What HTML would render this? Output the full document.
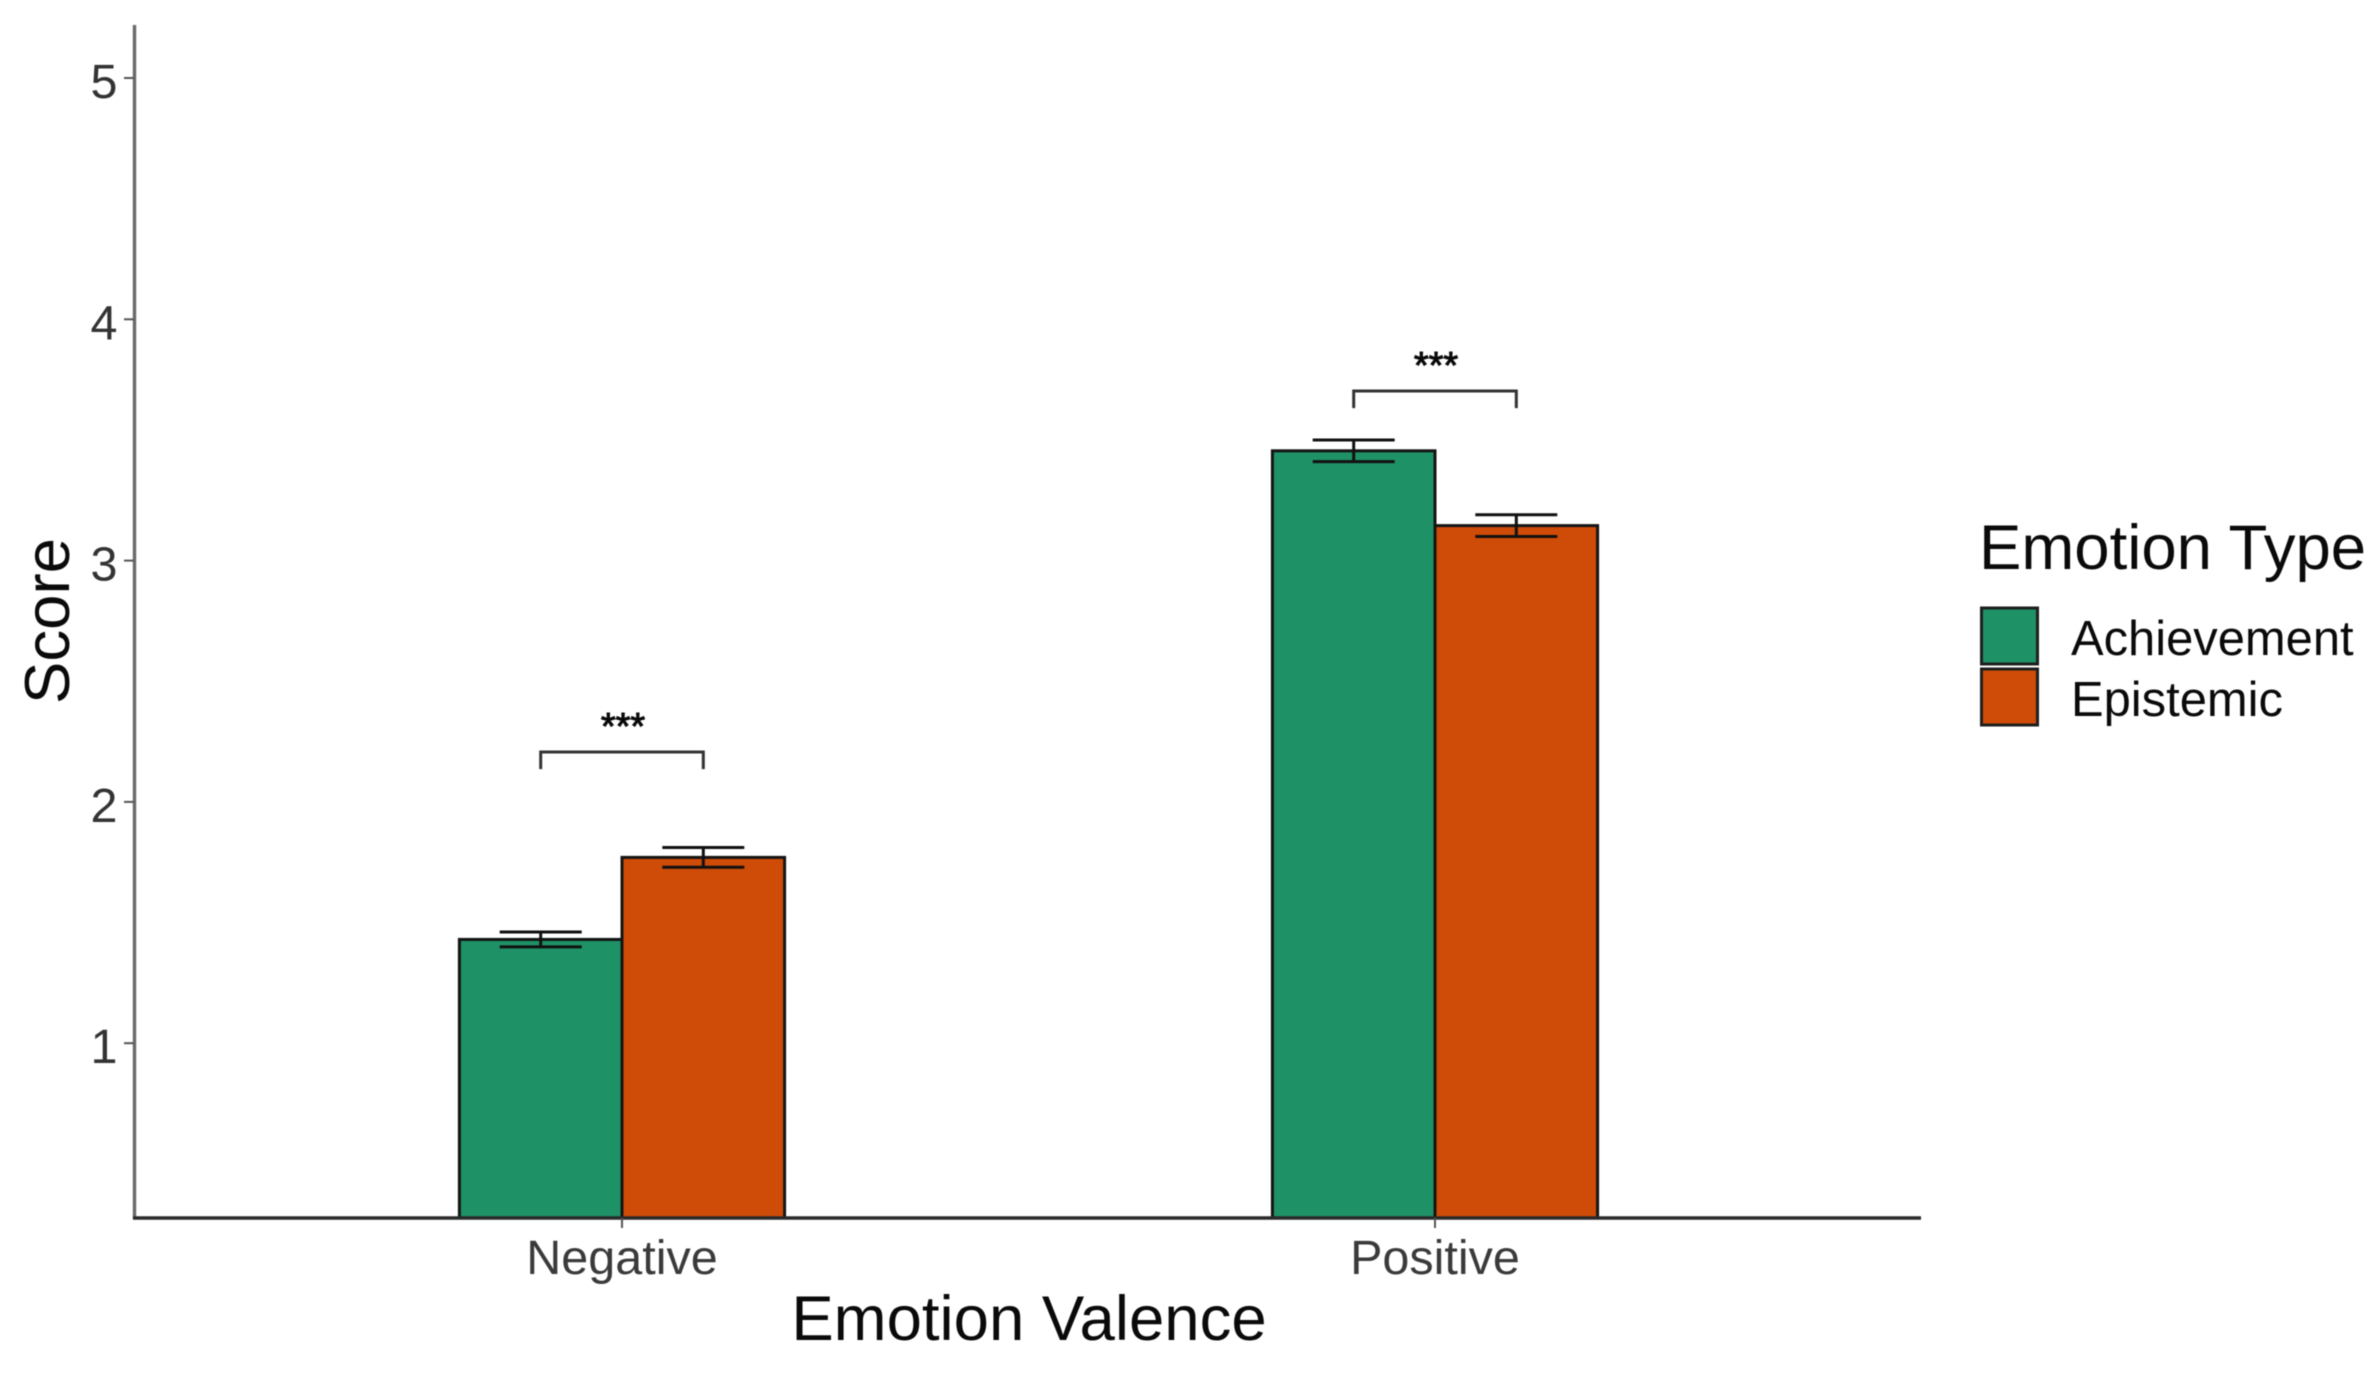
<!DOCTYPE html>
<html lang="en">
<head>
<meta charset="utf-8">
<title>Emotion score by valence and type</title>
<style>
html,body{margin:0;padding:0;background:#fff;width:2380px;height:1376px;overflow:hidden}
svg{display:block;filter:blur(0.6px)}
text{font-family:"Liberation Sans",Arial,sans-serif}
</style>
</head>
<body>
<svg id="chart" xmlns="http://www.w3.org/2000/svg" width="2380" height="1376" viewBox="0 0 2380 1376">
<rect x="0" y="0" width="2380" height="1376" fill="#fff"/>
<g id="marks"></g>
<g id="axes"></g>
<text x="1029" y="1340" font-size="63.5" text-anchor="middle" fill="#0a0a0a">Emotion Valence</text>
<text transform="translate(69 621) rotate(-90)" font-size="63.5" text-anchor="middle" fill="#0a0a0a">Score</text>
<g id="legend">
<text x="1979" y="569" font-size="63.5" fill="#0a0a0a">Emotion Type</text>
</g>
</svg>
<script>
const categories = ['Negative', 'Positive'];
const seriesNames = ['Achievement', 'Epistemic'];
const achievementMeans = [1.43, 3.455];
const epistemicMeans = [1.77, 3.145];
const achievementErrors = [0.031, 0.045];
const epistemicErrors = [0.041, 0.045];
const bracketTops = [2.207, 3.703];
const bracketTips = [2.136, 3.632];
const significanceLabels = ['***', '***'];
const yTicks = [1, 2, 3, 4, 5];
const seriesColors = ['#1f9166', '#ce4b08'];

const NS = 'http://www.w3.org/2000/svg';
const marks = document.getElementById('marks');
const axes = document.getElementById('axes');
const legend = document.getElementById('legend');

function yScale(v) { return 78 + (5 - v) * 241.3; }
function xCenter(i) { return 622 + i * 813; }
function xBar(i, s) { return xCenter(i) + (s - 1) * 162.6; }

function make(tag, attrs, parent) {
  const el = document.createElementNS(NS, tag);
  for (const k in attrs) el.setAttribute(k, attrs[k]);
  parent.appendChild(el);
  return el;
}

const allMeans = [achievementMeans, epistemicMeans];
const allErrors = [achievementErrors, epistemicErrors];
const baseY = 1218;

categories.forEach(function (cat, i) {
  seriesNames.forEach(function (name, s) {
    const v = allMeans[s][i];
    const err = allErrors[s][i];
    const left = xBar(i, s);
    const top = yScale(v);
    const mid = left + 81.3;
    const bar = make('rect', { x: left, y: top, width: 162.6, height: baseY - top, fill: seriesColors[s], stroke: '#141414', 'stroke-width': 3 }, marks);
    
    
    const d = 'M' + (mid - 41) + ' ' + yScale(v + err) + 'H' + (mid + 41) +
      'M' + mid + ' ' + yScale(v + err) + 'V' + yScale(v - err) +
      'M' + (mid - 41) + ' ' + yScale(v - err) + 'H' + (mid + 41);
    const eb = make('path', { d: d, fill: 'none', stroke: '#111', 'stroke-width': 3 }, marks);
    
    
  });
  const x1 = xBar(i, 0) + 81.3;
  const x2 = xBar(i, 1) + 81.3;
  const bd = 'M' + x1 + ' ' + yScale(bracketTips[i]) + 'V' + yScale(bracketTops[i]) + 'H' + x2 + 'V' + yScale(bracketTips[i]);
  const br = make('path', { d: bd, fill: 'none', stroke: '#333', 'stroke-width': 3 }, marks);
  
  
  const st = make('text', { x: xCenter(i) + 1, y: yScale(bracketTops[i]) - 13, 'font-size': 38, 'text-anchor': 'middle', fill: '#0a0a0a', stroke: '#0a0a0a', 'stroke-width': 1 }, marks);
  st.textContent = significanceLabels[i];
  
  
});

const yLine = make('line', { x1: 134.5, y1: 25, x2: 134.5, y2: baseY + 1, stroke: '#6a6a6a', 'stroke-width': 3.4 }, axes);


const xLine = make('line', { x1: 133, y1: baseY, x2: 1921, y2: baseY, stroke: '#2a2a2a', 'stroke-width': 3.4 }, axes);



yTicks.forEach(function (t) {
  const y = yScale(t);
  const tick = make('line', { x1: 124, y1: y, x2: 134, y2: y, stroke: '#555', 'stroke-width': 2 }, axes);
  
  
  const lab = make('text', { x: 117.5, y: y + 20, 'font-size': 48.5, 'text-anchor': 'end', fill: '#333' }, axes);
  lab.textContent = t;
  
  
});

categories.forEach(function (cat, i) {
  const x = xCenter(i);
  const tick = make('line', { x1: x, y1: baseY, x2: x, y2: 1228, stroke: '#555', 'stroke-width': 2 }, axes);
  
  
  const lab = make('text', { x: x, y: 1274, 'font-size': 48.5, 'text-anchor': 'middle', fill: '#3a3a3a' }, axes);
  lab.textContent = cat;
  
  
});

seriesNames.forEach(function (name, s) {
  const key = make('rect', { x: 1981.5, y: 608 + s * 61, width: 56, height: 56, fill: seriesColors[s], stroke: '#1e1e1e', 'stroke-width': 3 }, legend);
  
  
  const lab = make('text', { x: 2071, y: 655 + s * 61, 'font-size': 48.9, fill: '#0a0a0a' }, legend);
  lab.textContent = name;
  
  
});
</script>
</body>
</html>
